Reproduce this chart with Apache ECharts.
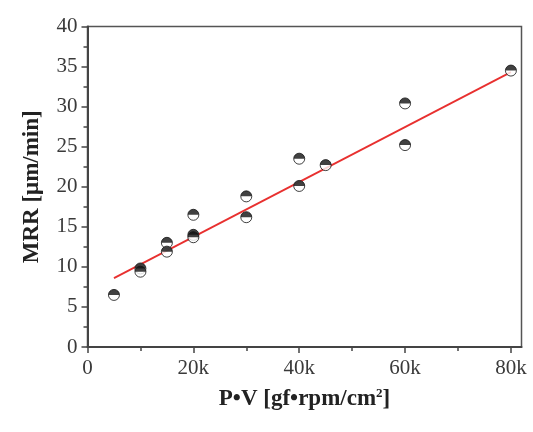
<!DOCTYPE html>
<html>
<head>
<meta charset="utf-8">
<script src="https://cdn.jsdelivr.net/npm/echarts@6/dist/echarts.min.js"></script>
<style>
  html, body { margin: 0; padding: 0; background: #fff; }
  #main { width: 533px; height: 432px; }
</style>
</head>
<body>
<div id="main"></div>
<script>
  // measured points (P*V, MRR)
  const pvValues = [5000, 10000, 10000, 15000, 15000, 20000, 20000, 20000, 30000, 30000, 40000, 40000, 45000, 60000, 60000, 80000]
  const mrrValues = [6.5, 9.8, 9.4, 13.0, 11.9, 16.5, 14.0, 13.7, 18.8, 16.2, 23.5, 20.1, 22.7, 30.4, 25.2, 34.5]
  // linear fit line, ends
  const fitX = [5000, 80000]
  const fitY = [8.6, 34.3]
  const xMajorTicks = [0, 20000, 40000, 60000, 80000]
  const xMinorTicks = [10000, 30000, 50000, 70000]

  const font = 'Liberation Serif'
  const points = pvValues.map(function (v, i) { return [v, mrrValues[i]] })
  const fitLine = fitX.map(function (v, i) { return [v, fitY[i]] })

  const myChart = echarts.init(document.getElementById('main'))
  const option = {
    backgroundColor: '#fff',
    animation: false,
    grid: {
      left: 87.5, right: 11.5, top: 26.5, bottom: 85,
      show: true, borderColor: '#555', borderWidth: 1.5
    },
    xAxis: [{
      type: 'value',
      min: 0,
      max: 82000,
      name: 'P•V [gf•rpm/cm{sup|2}]',
      nameLocation: 'middle',
      nameGap: 40,
      nameTextStyle: {
        fontFamily: font, fontSize: 23, fontWeight: 'bold', color: '#222',
        rich: {
          sup: { fontFamily: font, fontSize: 13, fontWeight: 'bold', color: '#222', verticalAlign: 'top', padding: [0, 0, 12, 0] }
        }
      },
      splitLine: { show: false },
      axisLine: { lineStyle: { color: '#444', width: 2 } },
      axisTick: { show: true, customValues: xMajorTicks, length: 6, lineStyle: { color: '#444', width: 1.5 } },
      axisLabel: {
        customValues: xMajorTicks,
        margin: 11,
        fontFamily: font, fontSize: 21, color: '#3a3a3a',
        formatter: function (v) { return v === 0 ? '0' : (v / 1000) + 'k' }
      }
    }, {
      // overlaid axis that only draws the minor ticks
      type: 'value',
      position: 'bottom',
      min: 0,
      max: 82000,
      splitLine: { show: false },
      axisLine: { show: false },
      axisTick: { show: true, customValues: xMinorTicks, length: 4, lineStyle: { color: '#444', width: 1.5 } },
      axisLabel: { show: false }
    }],
    yAxis: {
      type: 'value',
      min: 0,
      max: 40,
      interval: 5,
      name: 'MRR [μm/min]',
      nameLocation: 'middle',
      nameGap: 44,
      nameTextStyle: { fontFamily: font, fontSize: 23, fontWeight: 'bold', color: '#222' },
      splitLine: { show: false },
      axisLine: { show: true, lineStyle: { color: '#444', width: 2 } },
      axisTick: { show: true, length: 6, lineStyle: { color: '#444', width: 1.5 } },
      minorTick: { show: true, splitNumber: 2, length: 4, lineStyle: { color: '#444', width: 1.5 } },
      axisLabel: { margin: 10, fontFamily: font, fontSize: 21, color: '#3a3a3a' }
    },
    series: [{
      type: 'line',
      data: fitLine,
      symbol: 'none',
      lineStyle: { color: '#e8302f', width: 1.8 },
      z: 2
    }, {
      // white lower half with outline
      type: 'scatter',
      data: points,
      symbol: 'circle',
      symbolSize: 11,
      itemStyle: { color: '#fff', borderColor: '#111', borderWidth: 1 },
      z: 3
    }, {
      // black upper half
      type: 'scatter',
      data: points,
      symbol: 'path://M0,10 A10,10 0 0,1 20,10 Z',
      symbolSize: [11, 5.5],
      symbolOffset: [0, -2.75],
      itemStyle: { color: '#111' },
      z: 4
    }]
  }
  myChart.setOption(option, true)
</script>
</body>
</html>
